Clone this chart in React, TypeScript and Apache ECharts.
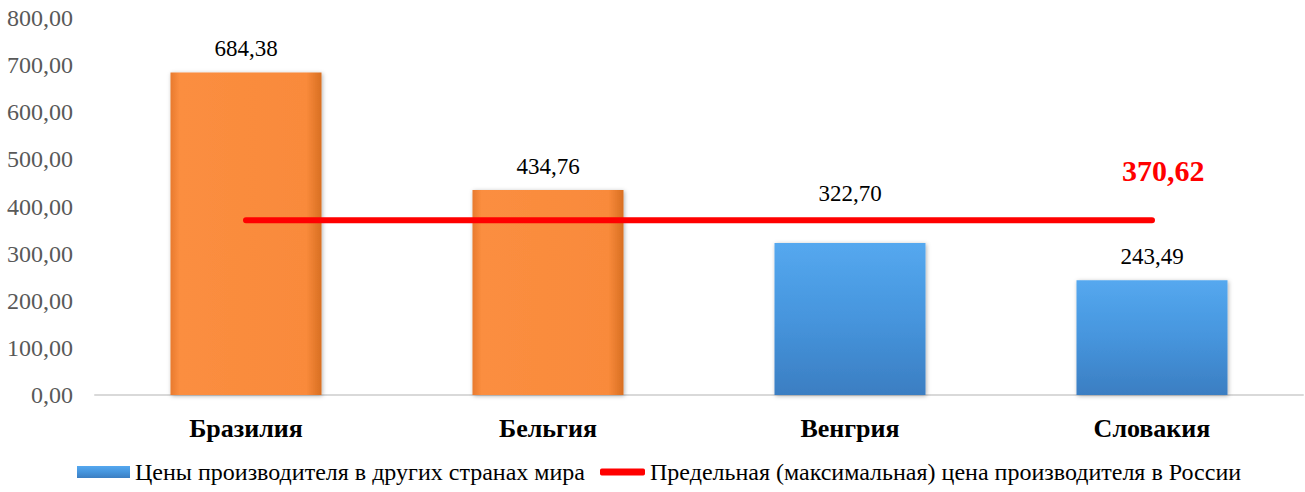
import React, { useEffect, useRef } from "react";
import * as echarts from "echarts";

const categories = ["Бразилия", "Бельгия", "Венгрия", "Словакия"];
const barValues = [684.38, 434.76, 322.7, 243.49];
const russiaMax = [370.62, 370.62, 370.62, 370.62];
const yTicks = { min: 0, max: 800, interval: 100 };
const barSeriesName = "Цены производителя в других странах мира";
const lineSeriesName = "Предельная (максимальная) цена производителя в России";

const fmt = (v: number) => v.toFixed(2).replace(".", ",");
const FONT = "Liberation Serif";

export default function App() {
  const ref = useRef<HTMLDivElement>(null);
  useEffect(() => {
    if (!ref.current) return;
    const chart = echarts.init(ref.current, null, { renderer: "svg" });
    const orangeGrad = new echarts.graphic.LinearGradient(0, 0, 1, 0, [
      { offset: 0, color: "#e87a2e" },
      { offset: 0.06, color: "#fb8e40" },
      { offset: 0.9, color: "#f98a3b" },
      { offset: 1, color: "#d86f22" },
    ]);
    const blueGrad = new echarts.graphic.LinearGradient(0, 0, 0, 1, [
      { offset: 0, color: "#55a8ef" },
      { offset: 0.5, color: "#4695dd" },
      { offset: 1, color: "#3b7ec2" },
    ]);
    chart.setOption({
      animation: false,
      backgroundColor: "#ffffff",
      textStyle: { fontFamily: FONT },
      grid: { left: 95, right: 2, top: 18, bottom: 97, containLabel: false },
      legend: [
        {
          data: [barSeriesName],
          left: 72,
          top: 455,
          itemWidth: 53,
          itemHeight: 12,
          icon: "rect",
          textStyle: { fontFamily: FONT, fontSize: 24, color: "#000" },
        },
        {
          data: [lineSeriesName],
          left: 595,
          top: 455,
          itemWidth: 45,
          itemHeight: 7,
          icon: "roundRect",
          textStyle: { fontFamily: FONT, fontSize: 24, color: "#000" },
        },
      ],
      xAxis: {
        type: "category",
        data: categories,
        axisLine: { lineStyle: { color: "#d9d9d9", width: 2 } },
        axisTick: { show: false },
        axisLabel: {
          margin: 20,
          fontFamily: FONT,
          fontSize: 26,
          fontWeight: "bold",
          color: "#000",
        },
      },
      yAxis: {
        type: "value",
        min: yTicks.min,
        max: yTicks.max,
        interval: yTicks.interval,
        splitLine: { show: false },
        axisLine: { show: false },
        axisTick: { show: false },
        axisLabel: {
          margin: 22,
          fontFamily: FONT,
          fontSize: 24,
          color: "#595959",
          formatter: (v: number) => fmt(v),
        },
      },
      series: [
        {
          name: barSeriesName,
          type: "bar",
          barWidth: "50%",
          itemStyle: {
            color: blueGrad,
            shadowColor: "rgba(0,0,0,0.3)",
            shadowBlur: 4,
            shadowOffsetX: 1,
            shadowOffsetY: 1,
          },
          label: {
            show: true,
            position: "top",
            distance: 12,
            fontFamily: FONT,
            fontSize: 23,
            color: "#000",
            formatter: (p: any) => fmt(p.value),
          },
          data: barValues.map((v, i) => {
            const d: any = { value: v };
            if (i < 2) d.itemStyle = { color: orangeGrad };
            if (i === 2) d.label = { distance: 38 };
            return d;
          }),
        },
        {
          name: lineSeriesName,
          type: "line",
          data: russiaMax,
          showSymbol: false,
          symbol: "circle",
          symbolSize: 1,
          color: "#ff0000",
          itemStyle: { color: "#ff0000" },
          lineStyle: {
            color: "#ff0000",
            width: 6,
            cap: "round",
          },
          endLabel: {
            show: true,
            offset: [-38, -50],
            fontFamily: FONT,
            fontSize: 30,
            fontWeight: "bold",
            color: "#ff0000",
            formatter: (p: any) => fmt(p.value),
          },
          z: 5,
        },
      ],
    });
    return () => chart.dispose();
  }, []);
  return (
    <div
      ref={ref}
      style={{ position: "fixed", left: 0, top: 0, width: 1305, height: 492 }}
    />
  );
}
